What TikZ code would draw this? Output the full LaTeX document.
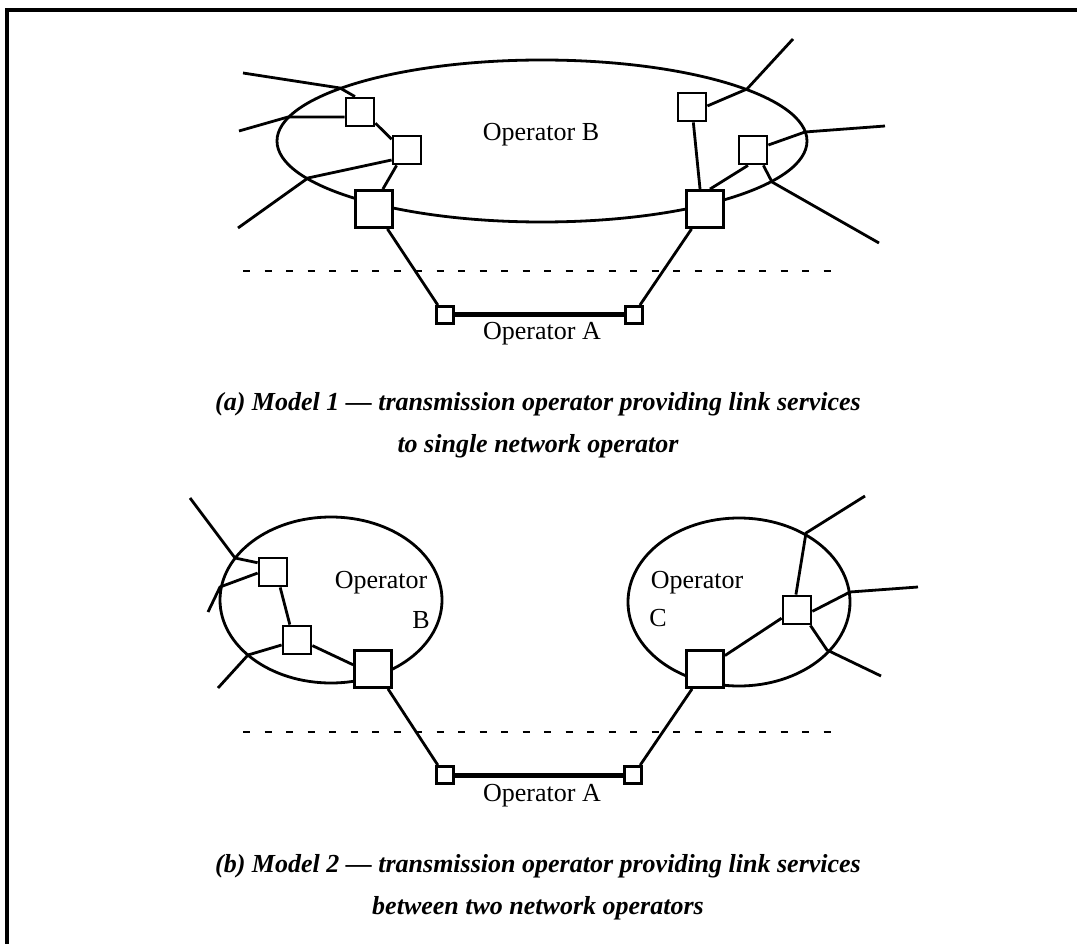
\documentclass[tikz,border=0pt]{standalone}
\usepackage{fontspec}
\setmainfont{Liberation Serif}
\usetikzlibrary{shapes.geometric}
\begin{document}
\begin{tikzpicture}[x=1pt,y=-1pt,
  ln/.style={line width=2.8pt, line join=round},
  oval/.style={ellipse, draw, line width=2.8pt, inner sep=0pt},
  bigsq/.style={rectangle, draw, fill=white, line width=2.8pt, minimum size=37pt, inner sep=0pt},
  midsq/.style={rectangle, draw, fill=white, line width=2.8pt, minimum size=28pt, inner sep=0pt},
  smsq/.style={rectangle, draw, fill=white, line width=2.8pt, minimum size=17pt, inner sep=0pt},
  thk/.style={line width=5pt},
  dsh/.style={line width=2.8pt, dash pattern=on 7pt off 14.5pt},
  lbl/.style={font=\fontsize{26}{29}\selectfont, inner sep=0pt},
  captext/.style={font=\fontsize{26}{42}\selectfont\bfseries\itshape, align=center, inner sep=0pt}]
\useasboundingbox (0,0) rectangle (1077,944);
\draw[line width=4pt] (7,944) -- (7,10) -- (1077,10);

% ---------- (a) ----------
\node[oval, minimum width=530pt, minimum height=162pt] (eB) at (542,141) {};
\node[lbl] (tB) at (541,135) {Operator B};
\node[midsq] (s1) at (360,112) {};
\node[midsq] (s2) at (407,150) {};
\node[bigsq] (s3) at (374,209) {};
\node[midsq] (s4) at (692,107) {};
\node[midsq] (s5) at (753,150) {};
\node[bigsq] (s6) at (705,209) {};
\node[smsq] (a1) at (445,315) {};
\node[smsq] (a2) at (634,315) {};
\node[lbl] (tA1) at (542,334) {Operator A};

\coordinate (c1) at (243,73);  \coordinate (k1) at (340,88);
\coordinate (c2) at (239,131); \coordinate (k2) at (288,117);
\coordinate (c3) at (238,228); \coordinate (k3) at (308,178);
\coordinate (c4) at (793,39);  \coordinate (k4) at (747,89);
\coordinate (c5) at (885,126); \coordinate (k5) at (805,132);
\coordinate (c6) at (879,243); \coordinate (k6) at (772,182);
\coordinate (dl1) at (243,271); \coordinate (dr1) at (840,271);

\draw[ln] (c1) -- (k1) -- (s1.108);
\draw[ln] (c2) -- (k2) -- (s1.198);
\draw[ln] (s1.324) -- (s2.145);
\draw[ln] (c3) -- (k3) -- (s2.213);
\draw[ln] (s2.236) -- (s3.66);
\draw[ln] (s3.304) -- (a1.126);
\draw[ln] (c4) -- (k4) -- (s4.4);
\draw[ln] (c5) -- (k5) -- (s5.18);
\draw[ln] (s5.304) -- (k6) -- (c6);
\draw[ln] (s4.275) -- (s6.104);
\draw[ln] (s5.252) -- (s6.76);
\draw[ln] (s6.236) -- (a2.59);
\draw[thk] (a1.east) -- (a2.west);
\draw[dsh] (dl1) -- (dr1);

\node[captext] (capa) at (538,425) {(a) Model 1 --- transmission operator providing link services\\ to single network operator};

% ---------- (b) ----------
\node[oval, minimum width=222pt, minimum height=166pt] (eB2) at (331,600) {};
\node[oval, minimum width=222pt, minimum height=168pt] (eC) at (739,602) {};
\node[lbl, fill=white, inner sep=1.5pt] (tB2) at (381,583) {Operator};
\node[lbl] (tB2b) at (421,620) {B};
\node[lbl] (tC) at (697,583) {Operator};
\node[lbl] (tCb) at (658,618) {C};

\node[midsq] (sa) at (273,572) {};
\node[midsq] (sb) at (297,640) {};
\node[bigsq] (sc) at (373,669) {};
\node[midsq] (sd) at (797,610) {};
\node[bigsq] (se) at (705,669) {};
\node[smsq] (b1) at (445,775) {};
\node[smsq] (b2) at (633,775) {};
\node[lbl] (tA2) at (542,796) {Operator A};

\coordinate (d1) at (190,498); \coordinate (m1) at (235,558);
\coordinate (d2) at (208,612); \coordinate (m2) at (220,587);
\coordinate (d3) at (218,688); \coordinate (m3) at (248,655);
\coordinate (d4) at (865,496); \coordinate (m4) at (806,533);
\coordinate (d5) at (918,587); \coordinate (m5) at (850,592);
\coordinate (d6) at (881,676); \coordinate (m6) at (827,650);
\coordinate (dl2) at (243,732); \coordinate (dr2) at (840,732);

\draw[ln] (d1) -- (m1) -- (sa.149);
\draw[ln] (d2) -- (m2) -- (sa.184);
\draw[ln] (sa.295) -- (sb.115);
\draw[ln] (d3) -- (m3) -- (sb.198);
\draw[ln] (sb.340) -- (sc.168);
\draw[ln] (sc.307) -- (b1.126);
\draw[thk] (b1.east) -- (b2.west);
\draw[ln] (se.237) -- (b2.54);
\draw[ln] (sd.94) -- (m4) -- (d4);
\draw[ln] (sd.355) -- (m5) -- (d5);
\draw[ln] (sd.311) -- (m6) -- (d6);
\draw[ln] (sd.208) -- (se.34);
\draw[dsh] (dl2) -- (dr2);

\node[captext] (capb) at (538,887) {(b) Model 2 --- transmission operator providing link services\\ between two network operators};
\end{tikzpicture}
\end{document}
